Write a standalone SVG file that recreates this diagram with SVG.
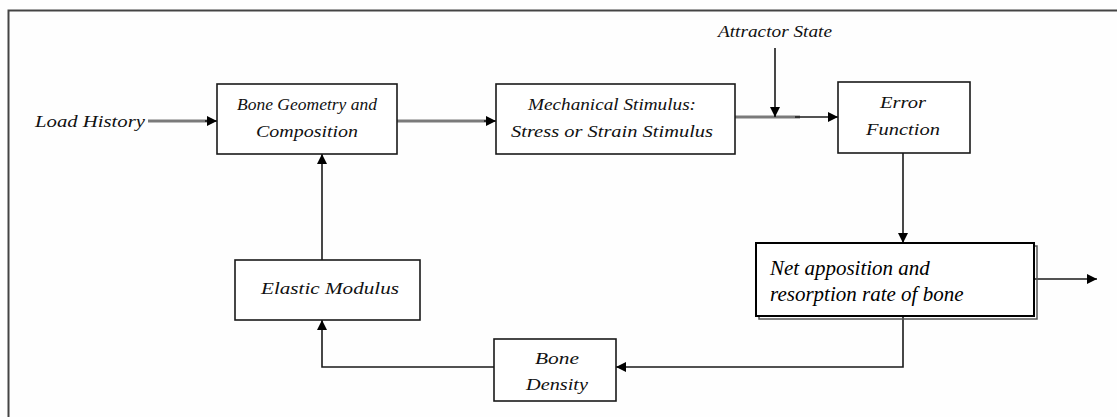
<svg xmlns="http://www.w3.org/2000/svg" width="1117" height="417" viewBox="0 0 1117 417">
  <style>
    .box { fill: #ffffff; stroke: #1a1a1a; stroke-width: 1.6; }
    .lbl { font-family: "Liberation Serif", "DejaVu Serif", "Times New Roman", serif; font-style: italic; font-size: 17px; fill: #111; text-anchor: middle; }
    .big { font-family: "Liberation Serif", "Times New Roman", serif; font-style: italic; font-size: 21px; fill: #000; }
    .wire { fill: none; stroke: #1a1a1a; stroke-width: 1.6; }
    .grey { fill: none; stroke: #7a7a7a; stroke-width: 3; }
  </style>
  <defs>
    <marker id="arr" viewBox="0 0 10 10" refX="10" refY="5" markerWidth="10" markerHeight="10" markerUnits="userSpaceOnUse" orient="auto">
      <path d="M0,0 L10,5 L0,10 Z" fill="#000"/>
    </marker>
  </defs>

  <rect width="1117" height="417" fill="#fefefe"/>
  <!-- frame: only top and left edges fall inside the canvas -->
  <path d="M8.5,420 V10.5 H1120" fill="none" stroke="#444" stroke-width="2"/>

  <g id="connectors">
    <!-- load input -->
    <line class="grey" x1="148" y1="121" x2="209" y2="121"/>
    <line class="wire" x1="205" y1="121" x2="217" y2="121" marker-end="url(#arr)"/>
    <!-- geometry to stimulus -->
    <line class="grey" x1="397" y1="121" x2="488" y2="121"/>
    <line class="wire" x1="484" y1="121" x2="496" y2="121" marker-end="url(#arr)"/>
    <!-- stimulus to error -->
    <line class="grey" x1="735" y1="117" x2="800" y2="117" stroke-width="2.2"/>
    <line class="wire" x1="795" y1="117" x2="838" y2="117" marker-end="url(#arr)"/>
    <!-- attractor state reference -->
    <line class="wire" x1="775" y1="48" x2="775" y2="117" marker-end="url(#arr)"/>
    <!-- error to rate -->
    <line class="wire" x1="903" y1="153" x2="903" y2="243" marker-end="url(#arr)"/>
    <!-- rate output -->
    <line class="wire" x1="1035" y1="279" x2="1097" y2="279" marker-end="url(#arr)"/>
    <!-- rate to density -->
    <polyline class="wire" points="903,317 903,367 616,367" marker-end="url(#arr)"/>
    <!-- density to modulus -->
    <polyline class="wire" points="494,367 322,367 322,320" marker-end="url(#arr)"/>
    <!-- modulus to geometry -->
    <line class="wire" x1="322" y1="260" x2="322" y2="154" marker-end="url(#arr)"/>
  </g>

  <g id="load-history">
    <text class="lbl" x="90" y="127" textLength="110" lengthAdjust="spacingAndGlyphs">Load History</text>
  </g>

  <g id="attractor-state">
    <text class="lbl" x="775" y="37" textLength="114" lengthAdjust="spacingAndGlyphs">Attractor State</text>
  </g>

  <g id="bone-geometry">
    <rect class="box" x="217" y="84" width="180" height="70"/>
    <text class="lbl" x="307" y="110" textLength="140" lengthAdjust="spacingAndGlyphs">Bone Geometry and</text>
    <text class="lbl" x="307" y="137" textLength="102" lengthAdjust="spacingAndGlyphs">Composition</text>
  </g>

  <g id="mechanical-stimulus">
    <rect class="box" x="496" y="84" width="239" height="70"/>
    <text class="lbl" x="612" y="110" textLength="168" lengthAdjust="spacingAndGlyphs">Mechanical Stimulus:</text>
    <text class="lbl" x="612" y="137" textLength="202" lengthAdjust="spacingAndGlyphs">Stress or Strain Stimulus</text>
  </g>

  <g id="error-function">
    <rect class="box" x="838" y="82" width="132" height="71"/>
    <text class="lbl" x="903" y="108" textLength="46" lengthAdjust="spacingAndGlyphs">Error</text>
    <text class="lbl" x="903" y="135" textLength="74" lengthAdjust="spacingAndGlyphs">Function</text>
  </g>

  <g id="net-rate">
    <rect x="759" y="246" width="278" height="73" fill="none" stroke="#555" stroke-width="1.5"/>
    <rect x="756" y="243" width="278" height="73" fill="#fff" stroke="#000" stroke-width="2"/>
    <text class="big" x="770" y="275">Net apposition and</text>
    <text class="big" x="770" y="301">resorption rate of bone</text>
  </g>

  <g id="elastic-modulus">
    <rect class="box" x="235" y="260" width="185" height="60"/>
    <text class="lbl" x="330" y="294" textLength="138" lengthAdjust="spacingAndGlyphs">Elastic Modulus</text>
  </g>

  <g id="bone-density">
    <rect class="box" x="494" y="339" width="122" height="62"/>
    <text class="lbl" x="557" y="364" textLength="44" lengthAdjust="spacingAndGlyphs">Bone</text>
    <text class="lbl" x="557" y="390" textLength="62" lengthAdjust="spacingAndGlyphs">Density</text>
  </g>
</svg>
